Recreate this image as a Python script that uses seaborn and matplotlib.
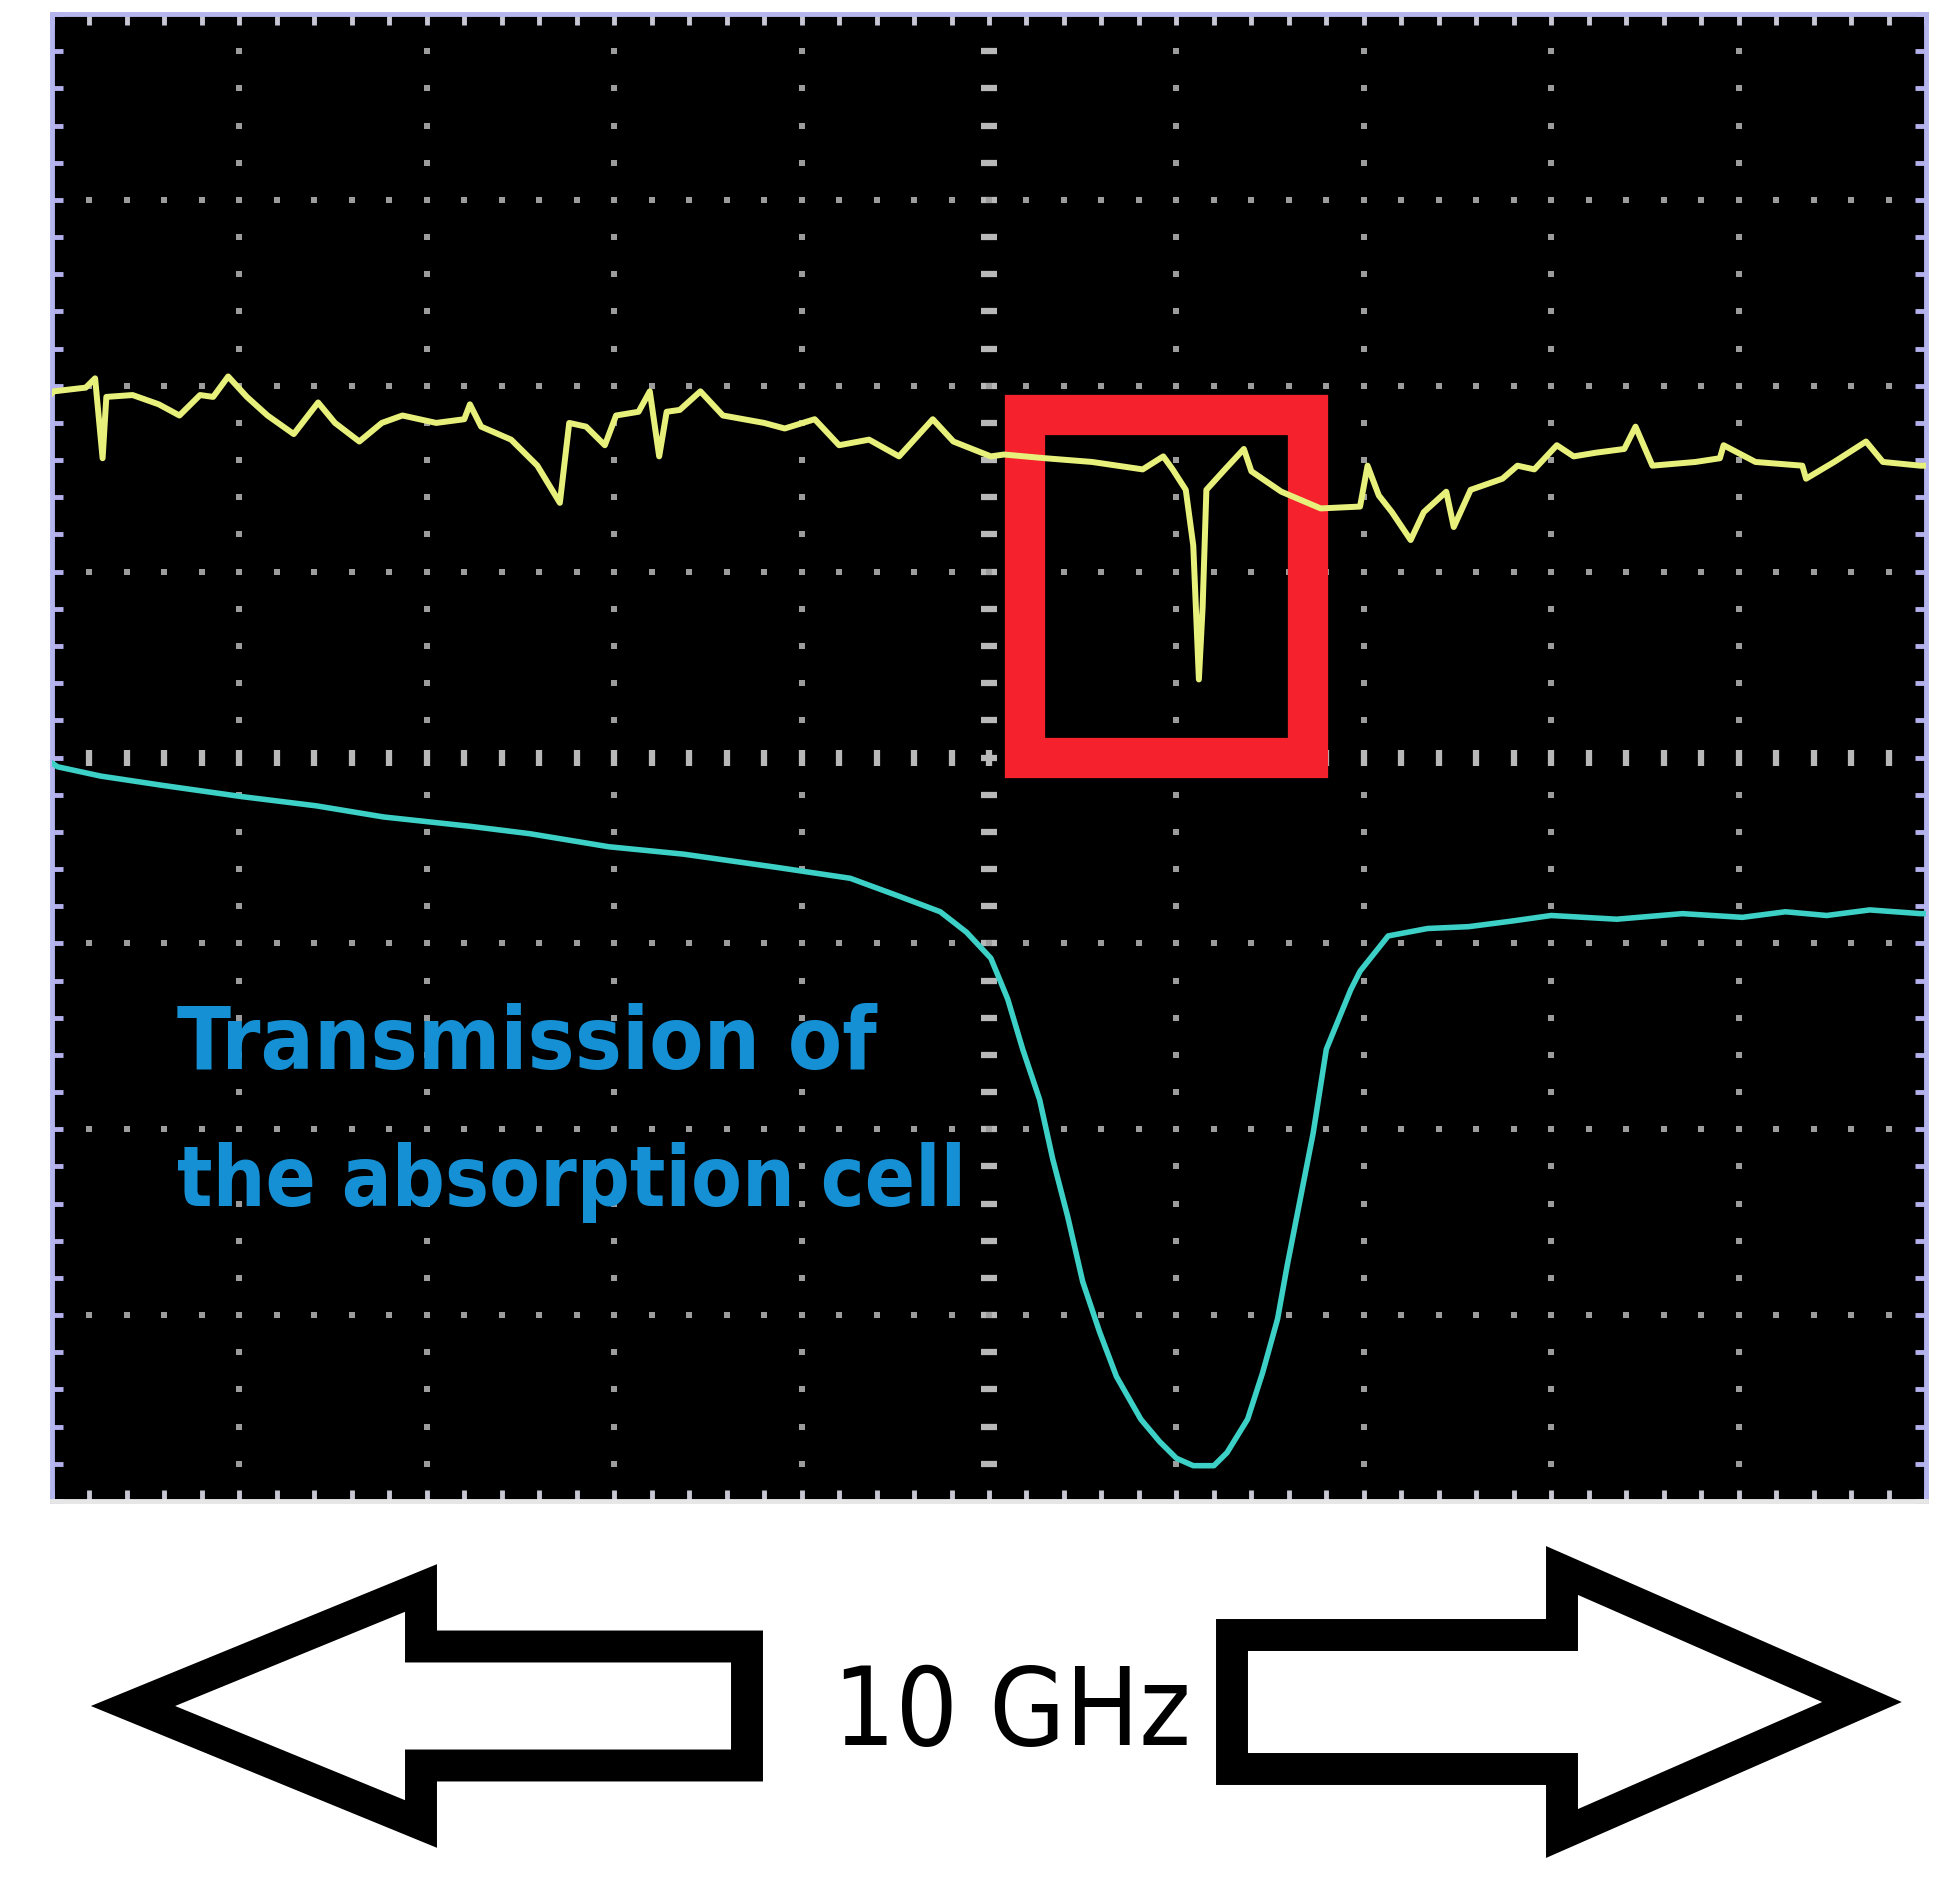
import numpy as np
import pandas as pd
import matplotlib
matplotlib.use('Agg')
import matplotlib.pyplot as plt
import seaborn as sns
from matplotlib import font_manager
from matplotlib.font_manager import FontProperties
from matplotlib.patches import Rectangle, FancyArrow

# scope screen, in divisions (10 x 8)
yellow_x = [0.0, 0.01, 0.18, 0.23, 0.27, 0.29, 0.43, 0.57, 0.68, 0.79, 0.86, 0.94, 1.04, 1.15,
            1.29, 1.42, 1.51, 1.64, 1.76, 1.87, 2.05, 2.20, 2.23, 2.29, 2.45, 2.59, 2.71, 2.76,
            2.85, 2.95, 3.01, 3.13, 3.19, 3.24, 3.28, 3.35, 3.46, 3.58, 3.80, 3.91, 4.07, 4.20,
            4.36, 4.52, 4.70, 4.81, 5.01, 5.08, 5.30, 5.55, 5.82, 5.93, 5.98, 6.05, 6.09, 6.12,
            6.14, 6.16, 6.25, 6.36, 6.40, 6.56, 6.77, 6.98, 7.02, 7.08, 7.15, 7.25, 7.32, 7.44,
            7.48, 7.57, 7.74, 7.82, 7.91, 8.03, 8.12, 8.24, 8.39, 8.45, 8.54, 8.77, 8.90, 8.92,
            9.09, 9.34, 9.36, 9.51, 9.68, 9.77, 9.97, 10.0]
yellow_y = [5.96, 5.97, 5.99, 6.04, 5.61, 5.94, 5.95, 5.90, 5.84, 5.95, 5.94, 6.05, 5.94, 5.84,
            5.74, 5.91, 5.80, 5.70, 5.80, 5.84, 5.80, 5.82, 5.90, 5.78, 5.71, 5.57, 5.37, 5.80,
            5.78, 5.68, 5.84, 5.86, 5.97, 5.62, 5.86, 5.87, 5.97, 5.84, 5.80, 5.77, 5.82, 5.68,
            5.71, 5.62, 5.82, 5.70, 5.62, 5.63, 5.61, 5.59, 5.55, 5.62, 5.55, 5.44, 5.14, 4.42,
            4.81, 5.44, 5.54, 5.66, 5.54, 5.43, 5.34, 5.35, 5.57, 5.41, 5.32, 5.17, 5.32, 5.43,
            5.24, 5.44, 5.50, 5.57, 5.55, 5.68, 5.62, 5.64, 5.66, 5.78, 5.57, 5.59, 5.61, 5.68,
            5.59, 5.57, 5.50, 5.59, 5.70, 5.59, 5.57, 5.57]

cyan_x = [0.0, 0.03, 0.26, 0.59, 1.01, 1.41, 1.77, 2.23, 2.55, 2.97, 3.37, 3.86, 4.26, 4.53,
          4.74, 4.88, 5.01, 5.10, 5.18, 5.27, 5.34, 5.42, 5.50, 5.59, 5.68, 5.81, 5.91, 6.00,
          6.09, 6.20, 6.27, 6.38, 6.46, 6.54, 6.59, 6.66, 6.73, 6.80, 6.93, 6.98, 7.13, 7.34,
          7.56, 7.79, 8.00, 8.35, 8.70, 9.02, 9.25, 9.47, 9.70, 9.97, 10.0]
cyan_y = [3.97, 3.95, 3.90, 3.85, 3.79, 3.74, 3.68, 3.63, 3.59, 3.52, 3.48, 3.41, 3.35, 3.25,
          3.17, 3.06, 2.92, 2.70, 2.43, 2.16, 1.84, 1.53, 1.18, 0.91, 0.67, 0.44, 0.32, 0.23,
          0.19, 0.19, 0.26, 0.44, 0.69, 0.98, 1.26, 1.62, 1.98, 2.43, 2.75, 2.85, 3.04, 3.08,
          3.09, 3.12, 3.15, 3.13, 3.16, 3.14, 3.17, 3.15, 3.18, 3.16, 3.16]

label_lines = ['Transmission of', 'the absorption cell']
span_label = '10 GHz'

# highlight box around the narrow dip (divisions)
box_x0, box_x1 = 5.19, 6.70
box_y0, box_y1 = 4.00, 5.84


def narrow_font(bold):
    # look for any condensed / narrow face that happens to be installed
    prefs = ['LiberationSansNarrow', 'ArialNarrow', 'DejaVuSansCondensed', 'RobotoCondensed',
             'OpenSansCondensed', 'OpenSans_Condensed', 'NotoSans-Condensed', 'NotoSansCondensed']
    files = [f.fname for f in font_manager.fontManager.ttflist]
    for p in prefs:
        for fn in files:
            base = fn.split('/')[-1].replace(' ', '')
            if p.lower() in base.lower():
                is_bold = 'bold' in base.lower() and 'semibold' not in base.lower() \
                    and 'extrabold' not in base.lower()
                italic = 'italic' in base.lower() or 'oblique' in base.lower()
                if is_bold == bold and not italic:
                    return FontProperties(fname=fn)
    return FontProperties(family='Liberation Sans', weight='bold' if bold else 'normal')


def fit_width(txt, target_px):
    fig.canvas.draw()
    w = txt.get_window_extent().width
    txt.set_fontsize(txt.get_fontsize() * target_px / w)


W, H = 1955, 1881
fig = plt.figure(figsize=(W / 100, H / 100), dpi=100, facecolor='white')
ax = fig.add_axes([52 / W, (H - 1502) / H, 1874 / W, 1487 / H])
ax.set_facecolor('black')
ax.set_xlim(0, 10)
ax.set_ylim(0, 8)

# dotted graticule
dot = dict(ls='none', marker='s', ms=4.4, mew=0, color='#9c9c9c', zorder=1)
sub_y = np.arange(0.2, 8.0, 0.2)
sub_x = np.arange(0.2, 10.0, 0.2)
for gx in range(1, 10):
    if gx == 5:
        ax.plot(np.full_like(sub_y, gx), sub_y, ls='none', marker='_', ms=12, mew=4.5,
                color='#b8b8b8', zorder=1)
    else:
        ax.plot(np.full_like(sub_y, gx), sub_y, **dot)
for gy in range(1, 8):
    if gy == 4:
        ax.plot(sub_x, np.full_like(sub_x, gy), ls='none', marker='|', ms=12, mew=4.5,
                color='#b8b8b8', zorder=1)
    else:
        ax.plot(sub_x, np.full_like(sub_x, gy), **dot)

ax.set_xticks(np.arange(0, 11, 1))
ax.set_yticks(np.arange(0, 9, 1))
ax.set_xticks(sub_x, minor=True)
ax.set_yticks(sub_y, minor=True)
ax.tick_params(which='both', direction='in', length=8, width=3.5, labelbottom=False,
               labelleft=False, top=True, right=True)
ax.tick_params(axis='y', which='both', colors='#b4b0ec')
ax.tick_params(axis='x', which='both', colors='#c8c8d4')
for side in ['left', 'top', 'right']:
    ax.spines[side].set_color('#b4b4ee')
    ax.spines[side].set_linewidth(3.5)
ax.spines['bottom'].set_color('#e6e6e6')
ax.spines['bottom'].set_linewidth(3.5)

ax.add_patch(Rectangle((box_x0, box_y0), box_x1 - box_x0, box_y1 - box_y0, fill=False,
                       ec='#f5212c', lw=29, joinstyle='miter', zorder=3))

yellow = pd.DataFrame({'x': yellow_x, 'y': yellow_y})
cyan = pd.DataFrame({'x': cyan_x, 'y': cyan_y})
sns.lineplot(data=yellow, x='x', y='y', ax=ax, color='#e8f07c', lw=4.3,
             estimator=None, sort=False, zorder=5)
sns.lineplot(data=cyan, x='x', y='y', ax=ax, color='#3cd0c6', lw=4.0,
             estimator=None, sort=False, zorder=5)
ax.set_xlabel('')
ax.set_ylabel('')

blue_font = narrow_font(True)
black_font = narrow_font(False)

t1 = ax.text(0.667, 2.33, label_lines[0], color='#1690d4', fontproperties=blue_font,
             va='baseline', ha='left', zorder=6)
t1.set_fontsize(60)
fit_width(t1, 700)
t2 = ax.text(0.667, 1.59, label_lines[1], color='#1690d4', fontproperties=blue_font,
             va='baseline', ha='left', zorder=6)
t2.set_fontsize(60)
fit_width(t2, 790)

# bottom strip in pixel units for the span arrows
bx = fig.add_axes([0, 0, 1, (H - 1505) / H])
bx.set_xlim(0, W)
bx.set_ylim(H, 1505)
bx.axis('off')
bx.add_patch(FancyArrow(747, 1707, -614, 0, width=119, head_width=236, head_length=288,
                        length_includes_head=True, fc='white', ec='black', lw=23,
                        joinstyle='miter'))
bx.add_patch(FancyArrow(1232, 1703, 630, 0, width=134, head_width=263, head_length=300,
                        length_includes_head=True, fc='white', ec='black', lw=23,
                        joinstyle='miter'))
t3 = bx.text(1012, 1745, span_label, fontproperties=black_font, color='black',
             ha='center', va='baseline')
t3.set_fontsize(70)
fit_width(t3, 358)

fig.savefig('out.png', dpi=100, facecolor='white')
